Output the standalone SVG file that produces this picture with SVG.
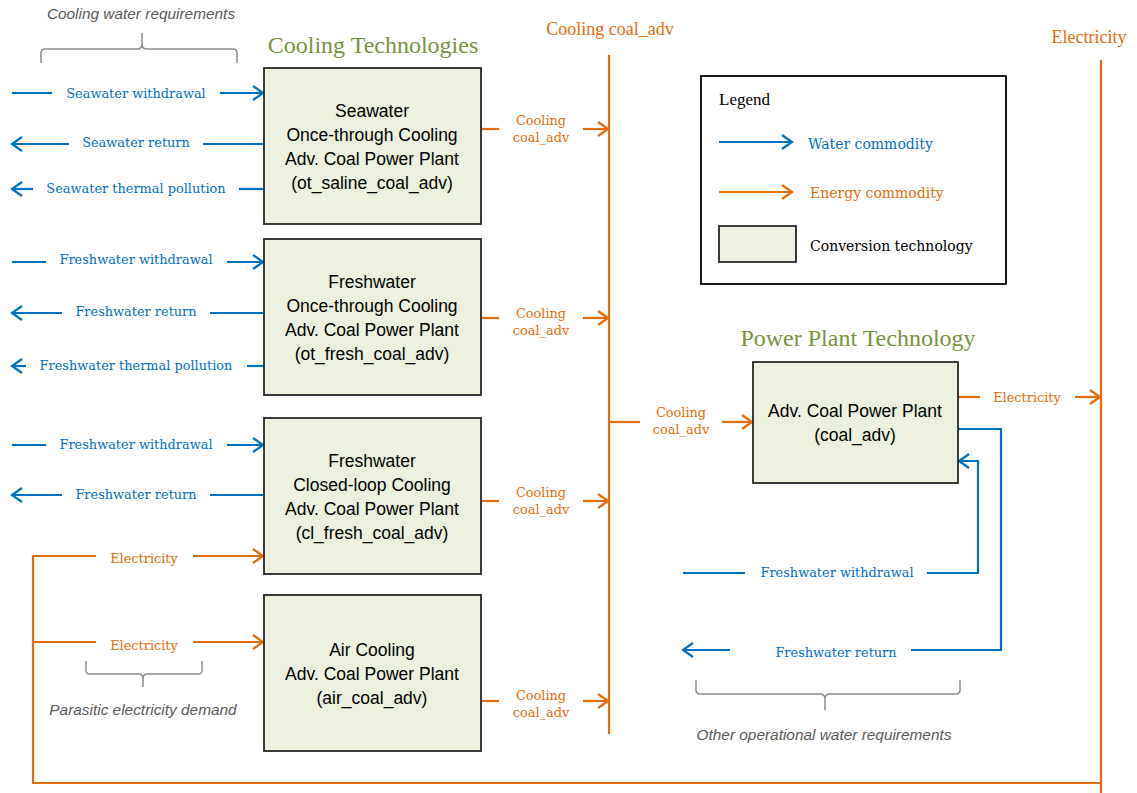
<svg xmlns="http://www.w3.org/2000/svg" width="1137" height="793" viewBox="0 0 1137 793">
<style>
.box{fill:#EBF1DE;stroke:#262626;stroke-width:1.8}
.bt{font-family:"Liberation Sans",Arial,sans-serif;font-size:17.5px;fill:#000;text-anchor:middle}
.w{stroke:#0070C0;stroke-width:2.2;fill:none}
.e{stroke:#E36C0A;stroke-width:2.2;fill:none}
.wl{font-family:"DejaVu Serif","Liberation Serif",serif;font-size:12.9px;fill:#0070C0;text-anchor:middle}
.el{font-family:"DejaVu Serif","Liberation Serif",serif;font-size:12.9px;fill:#E36C0A;text-anchor:middle}
.ttl{font-family:"Liberation Serif",serif;font-size:24px;fill:#77933C;text-anchor:middle}
.br{stroke:#8C8C8C;stroke-width:1.5;fill:none}
.it{font-family:"Liberation Sans",Arial,sans-serif;font-style:italic;font-size:15.4px;fill:#595959;text-anchor:middle}
.wa{marker-end:url(#aw)}
.ea{marker-end:url(#ae)}
</style>
<defs>
<marker id="aw" markerWidth="14" markerHeight="18" refX="12" refY="9" orient="auto" markerUnits="userSpaceOnUse" viewBox="0 0 14 18"><path d="M2,2 L12,9 L2,16" fill="none" stroke="#0070C0" stroke-width="2.2"/></marker>
<marker id="ae" markerWidth="14" markerHeight="18" refX="12" refY="9" orient="auto" markerUnits="userSpaceOnUse" viewBox="0 0 14 18"><path d="M2,2 L12,9 L2,16" fill="none" stroke="#E36C0A" stroke-width="2.2"/></marker>
</defs>
<rect width="1137" height="793" fill="#fff"/>

<!-- titles and annotations -->
<text class="ttl" x="373" y="53">Cooling Technologies</text>
<text class="ttl" x="858" y="346">Power Plant Technology</text>
<text x="610" y="35" style="font-family:'Liberation Serif',serif;font-size:18px;fill:#E36C0A;text-anchor:middle">Cooling coal_adv</text>
<text x="1089" y="43" style="font-family:'Liberation Serif',serif;font-size:18px;fill:#E36C0A;text-anchor:middle">Electricity</text>
<text class="it" x="141" y="19">Cooling water requirements</text>
<text class="it" x="143" y="715">Parasitic electricity demand</text>
<text class="it" x="824" y="740">Other operational water requirements</text>
<path class="br" d="M41,63 V53 Q41,49 45,49 H137 Q142,49 142,44 V33 M142,44 Q142,49 147,49 H233 Q237,49 237,53 V63"/>
<path class="br" d="M86,661 V670 Q86,674 90,674 H139 Q143,674 143,679 V687 M143,679 Q143,674 147,674 H198 Q202,674 202,670 V661"/>
<path class="br" d="M696,680 V690 Q696,694 700,694 H820 Q825,694 825,699 V710 M825,699 Q825,694 830,694 H956 Q960,694 960,690 V680"/>

<!-- legend -->
<g id="legend">
<rect x="701" y="76" width="305" height="208" fill="#fff" stroke="#000" stroke-width="1.8"/>
<text x="719" y="105" style="font-family:'Liberation Serif',serif;font-size:17px;fill:#000">Legend</text>
<line class="w wa" x1="719" y1="142" x2="792" y2="142"/>
<text x="808" y="149" style="font-family:'DejaVu Serif','Liberation Serif',serif;font-size:14px;fill:#0070C0">Water commodity</text>
<line class="e ea" x1="719" y1="192" x2="792" y2="192"/>
<text x="810" y="198" style="font-family:'DejaVu Serif','Liberation Serif',serif;font-size:14px;fill:#E36C0A">Energy commodity</text>
<rect class="box" x="719" y="226" width="77" height="36"/>
<text x="810" y="251" style="font-family:'DejaVu Serif','Liberation Serif',serif;font-size:14px;fill:#000">Conversion technology</text>
</g>

<!-- connectors -->
<g id="connectors">
<line class="e" x1="609" y1="55" x2="609" y2="734"/>
<line class="e" x1="1101" y1="60" x2="1101" y2="793"/>
<polyline class="e" points="1101,783 33,783 33,556 96,556"/>
<line class="e" x1="33" y1="642" x2="96" y2="642"/>
<line class="e ea" x1="193" y1="556" x2="263" y2="556"/>
<line class="e ea" x1="193" y1="642" x2="263" y2="642"/>

<line class="w" x1="12" y1="93" x2="52" y2="93"/>
<line class="w wa" x1="220" y1="93" x2="263" y2="93"/>
<line class="w" x1="264" y1="144" x2="203" y2="144"/>
<line class="w wa" x1="69" y1="144" x2="12" y2="144"/>
<line class="w" x1="264" y1="189" x2="239" y2="189"/>
<line class="w wa" x1="33" y1="189" x2="12" y2="189"/>
<line class="w" x1="12" y1="262" x2="46" y2="262"/>
<line class="w wa" x1="227" y1="262" x2="263" y2="262"/>
<line class="w" x1="264" y1="313" x2="210" y2="313"/>
<line class="w wa" x1="62" y1="313" x2="12" y2="313"/>
<line class="w" x1="264" y1="366" x2="247" y2="366"/>
<line class="w wa" x1="26" y1="366" x2="12" y2="366"/>
<line class="w" x1="12" y1="445" x2="46" y2="445"/>
<line class="w wa" x1="227" y1="445" x2="263" y2="445"/>
<line class="w" x1="264" y1="495" x2="210" y2="495"/>
<line class="w wa" x1="62" y1="495" x2="12" y2="495"/>

<line class="e" x1="481" y1="129" x2="499" y2="129"/>
<line class="e ea" x1="583" y1="129" x2="608" y2="129"/>
<line class="e" x1="481" y1="318" x2="499" y2="318"/>
<line class="e ea" x1="583" y1="318" x2="608" y2="318"/>
<line class="e" x1="481" y1="501" x2="499" y2="501"/>
<line class="e ea" x1="583" y1="501" x2="608" y2="501"/>
<line class="e" x1="481" y1="701" x2="499" y2="701"/>
<line class="e ea" x1="583" y1="701" x2="608" y2="701"/>

<line class="e" x1="609" y1="422" x2="640" y2="422"/>
<line class="e ea" x1="722" y1="422" x2="752" y2="422"/>
<line class="e" x1="958" y1="397" x2="980" y2="397"/>
<line class="e ea" x1="1075" y1="397" x2="1100" y2="397"/>
<polyline class="w" points="958,429 1001,429 1001,650 911,650"/>
<line class="w wa" x1="730" y1="650" x2="683" y2="650"/>
<line class="w" x1="683" y1="573" x2="745" y2="573"/>
<polyline class="w wa" points="927,573 978,573 978,461 959,461"/>
</g>

<g id="labels">
<text class="wl" x="136" y="98">Seawater withdrawal</text>
<text class="wl" x="136" y="147">Seawater return</text>
<text class="wl" x="136" y="193">Seawater thermal pollution</text>
<text class="wl" x="136" y="264">Freshwater withdrawal</text>
<text class="wl" x="136" y="316">Freshwater return</text>
<text class="wl" x="136" y="370">Freshwater thermal pollution</text>
<text class="wl" x="136" y="449">Freshwater withdrawal</text>
<text class="wl" x="136" y="499">Freshwater return</text>
<text class="el" x="144" y="563">Electricity</text>
<text class="el" x="144" y="650">Electricity</text>
<text class="el" x="541" y="125">Cooling</text><text class="el" x="541" y="142">coal_adv</text>
<text class="el" x="541" y="318">Cooling</text><text class="el" x="541" y="335">coal_adv</text>
<text class="el" x="541" y="497">Cooling</text><text class="el" x="541" y="514">coal_adv</text>
<text class="el" x="541" y="700">Cooling</text><text class="el" x="541" y="717">coal_adv</text>
<text class="el" x="681" y="417">Cooling</text><text class="el" x="681" y="434">coal_adv</text>
<text class="el" x="1027" y="402">Electricity</text>
<text class="wl" x="837" y="577">Freshwater withdrawal</text>
<text class="wl" x="836" y="657">Freshwater return</text>
</g>

<g id="ot_saline">
<rect class="box" x="264" y="68" width="217" height="156"/>
<text class="bt" x="372" y="117">Seawater</text>
<text class="bt" x="372" y="141">Once-through Cooling</text>
<text class="bt" x="372" y="165">Adv. Coal Power Plant</text>
<text class="bt" x="372" y="189">(ot_saline_coal_adv)</text>
</g>
<g id="ot_fresh">
<rect class="box" x="264" y="239" width="217" height="156"/>
<text class="bt" x="372" y="288">Freshwater</text>
<text class="bt" x="372" y="312">Once-through Cooling</text>
<text class="bt" x="372" y="336">Adv. Coal Power Plant</text>
<text class="bt" x="372" y="360">(ot_fresh_coal_adv)</text>
</g>
<g id="cl_fresh">
<rect class="box" x="264" y="418" width="217" height="156"/>
<text class="bt" x="372" y="467">Freshwater</text>
<text class="bt" x="372" y="491">Closed-loop Cooling</text>
<text class="bt" x="372" y="515">Adv. Coal Power Plant</text>
<text class="bt" x="372" y="539">(cl_fresh_coal_adv)</text>
</g>
<g id="air">
<rect class="box" x="264" y="595" width="217" height="156"/>
<text class="bt" x="372" y="656">Air Cooling</text>
<text class="bt" x="372" y="680">Adv. Coal Power Plant</text>
<text class="bt" x="372" y="704">(air_coal_adv)</text>
</g>
<g id="coal_adv">
<rect class="box" x="753" y="362" width="205" height="121"/>
<text class="bt" x="855" y="417">Adv. Coal Power Plant</text>
<text class="bt" x="855" y="441">(coal_adv)</text>
</g>
</svg>
